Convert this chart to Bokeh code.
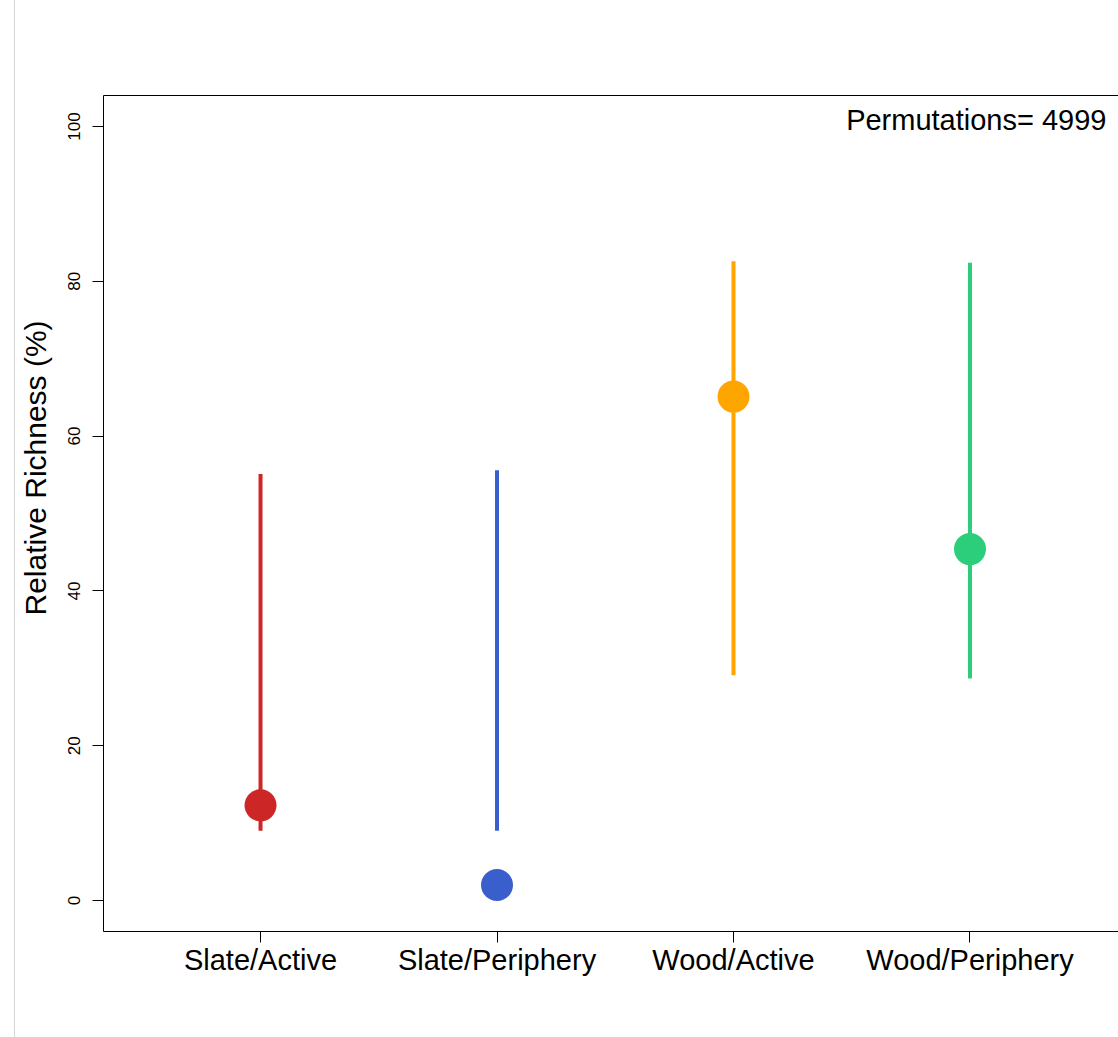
from bokeh.plotting import figure
from bokeh.models import Range1d, FixedTicker, Label, ColumnDataSource, Title, LinearAxis
from bokeh.embed import file_html
from bokeh.resources import INLINE

categories = ["Slate/Active", "Slate/Periphery", "Wood/Active", "Wood/Periphery"]
richness = [12.3, 2.0, 65.1, 45.4]
lower = [9.0, 9.0, 29.1, 28.7]
upper = [55.1, 55.6, 82.6, 82.4]
colors = ["#CD2626", "#3A5FCD", "#FFA500", "#2CCE7C"]
y_ticks = [0, 20, 40, 60, 80, 100]
permutations = 4999

positions = [i + 1 for i in range(len(categories))]
src = ColumnDataSource(dict(x=positions, y=richness, lo=lower, hi=upper, c=colors))

FONT = "Liberation Sans"
W, H = 1118, 1037

p = figure(width=W, height=H, output_backend="svg", toolbar_location=None,
           x_range=Range1d(0.336, 4.628), y_range=Range1d(-4, 104),
           min_border_left=103, min_border_right=0, min_border_top=95, min_border_bottom=106)
p.border_fill_color = None
p.background_fill_color = "white"
p.styles = {"background-image": "linear-gradient(to right, transparent 14px, #d6d6d6 14px, #d6d6d6 15px, transparent 15px)"}
p.outline_line_color = None
p.xgrid.visible = False
p.ygrid.visible = False

p.segment(x0="x", y0="lo", x1="x", y1="hi", line_color="c", line_width=4, line_cap="butt", source=src)
p.scatter(x="x", y="y", size=32, fill_color="c", line_color="c", line_width=0, source=src)

xa = p.xaxis[0]
xa.ticker = FixedTicker(ticks=positions)
xa.major_label_overrides = {pos: cat for pos, cat in zip(positions, categories)}
xa.axis_line_color = "black"
xa.major_tick_out = 11
xa.major_tick_in = 0
xa.minor_tick_line_color = None
xa.major_tick_line_color = "black"
xa.major_label_text_font = FONT
xa.major_label_text_font_size = "29px"
xa.major_label_text_color = "black"
xa.major_label_standoff = 1

ya = p.yaxis[0]
ya.ticker = FixedTicker(ticks=y_ticks)
ya.axis_line_color = "black"
ya.major_tick_out = 11
ya.major_tick_in = 0
ya.minor_tick_line_color = None
ya.major_tick_line_color = "black"
ya.major_label_orientation = "vertical"
ya.major_label_text_font = FONT
ya.major_label_text_font_size = "17px"
ya.major_label_text_color = "black"
ya.major_label_standoff = 12

top = LinearAxis(ticker=FixedTicker(ticks=[]), axis_line_color="black",
                 major_tick_line_color=None, minor_tick_line_color=None,
                 major_label_text_font_size="0px")
p.add_layout(top, "above")

ytitle = Title(text="Relative Richness (%)", align="left", offset=316,
               text_font=FONT, text_font_size="30px", text_font_style="normal",
               text_color="black", standoff=27)
p.add_layout(ytitle, "left")

# screen units are measured from the frame's bottom-left corner
perm = Label(x=1003, y=812, x_units="screen", y_units="screen",
             text=f"Permutations= {permutations}", text_font=FONT, text_font_size="29px",
             text_align="right", text_baseline="alphabetic", text_color="black")
p.add_layout(perm)

open("out.html", "w").write(file_html(p, INLINE))
